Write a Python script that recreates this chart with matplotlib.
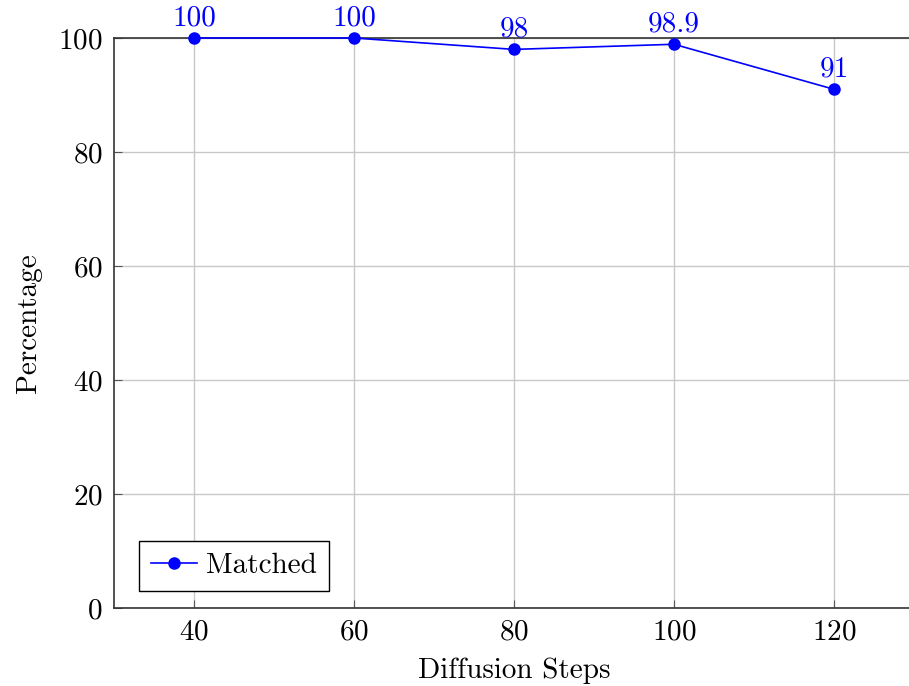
import matplotlib
matplotlib.use("Agg")
import matplotlib.pyplot as plt

plt.rcParams['font.family'] = 'serif'
plt.rcParams['font.serif'] = ['cmr10']
plt.rcParams['mathtext.fontset'] = 'cm'
plt.rcParams['axes.formatter.use_mathtext'] = True

# data
steps = [40, 60, 80, 100, 120]
matched = [100, 100, 98, 98.9, 91]
point_labels = ["100", "100", "98", "98.9", "91"]

fs = 21

fig = plt.figure(figsize=(9.09, 6.86), dpi=100)
ax = fig.add_axes([114 / 909, 78 / 686, 800 / 909, 570 / 686])

ax.plot(steps, matched, color="blue", marker="o", markersize=8, linewidth=1.2,
        label="Matched", clip_on=False, zorder=5)
for xv, yv, lab in zip(steps, matched, point_labels):
    ax.annotate(lab, (xv, yv), xytext=(0, 5), textcoords="offset points",
                ha="center", va="bottom", color="blue", fontsize=fs)

ax.set_xlim(30, 130)
ax.set_ylim(0, 100)
ax.set_xticks(steps)
ax.set_yticks([0, 20, 40, 60, 80, 100])
ax.grid(True, color="#c8c8c8", linewidth=1)
ax.set_axisbelow(True)
ax.tick_params(direction="in", length=6, color="#555555", labelsize=fs,
               top=False, right=False, pad=8)
for s in ax.spines.values():
    s.set_color("#333333")
    s.set_linewidth(1.2)

ax.set_xlabel("Diffusion Steps", fontsize=fs, labelpad=9)
ax.set_ylabel("Percentage", fontsize=fs, labelpad=12)

leg = ax.legend(loc="lower left", bbox_to_anchor=(0.013, 0.004), fontsize=fs,
                fancybox=False, edgecolor="black", framealpha=1,
                handlelength=1.6, handletextpad=0.3, borderpad=0.4)
leg.get_frame().set_linewidth(1)

fig.savefig("out.png", dpi=100)
